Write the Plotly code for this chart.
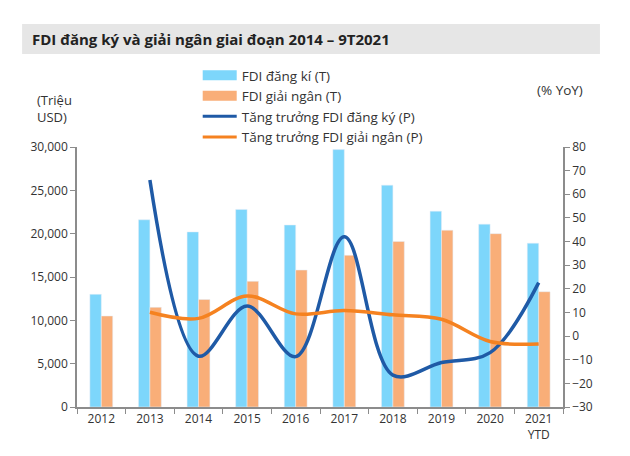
import plotly.graph_objects as go

years = ["2012", "2013", "2014", "2015", "2016", "2017", "2018", "2019", "2020", "2021"]
tick_labels = ["2012", "2013", "2014", "2015", "2016", "2017", "2018", "2019", "2020", "2021<br>YTD"]
fdi_dang_ky = [13000, 21600, 20200, 22800, 21000, 29700, 25600, 22600, 21100, 18900]
fdi_giai_ngan = [10500, 11500, 12400, 14500, 15800, 17500, 19100, 20400, 20000, 13300]
tt_dang_ky = [None, 66, -8.5, 12.7, -8.7, 42, -16.5, -11.2, -7, 22.6]
tt_giai_ngan = [None, 10.1, 7.5, 17, 9.4, 10.8, 9, 7.1, -2.3, -3.3]

C_BLUE_BAR = "#7DD6FB"
C_ORANGE_BAR = "#F9AE78"
C_BLUE_LINE = "#1F5AA6"
C_ORANGE_LINE = "#F58220"
FONT = "Open Sans"

fig = go.Figure()
fig.add_trace(go.Bar(x=years, y=fdi_dang_ky, marker_color=C_BLUE_BAR, showlegend=False,
                     name="FDI đăng kí (T)"))
fig.add_trace(go.Bar(x=years, y=fdi_giai_ngan, marker_color=C_ORANGE_BAR, showlegend=False,
                     name="FDI giải ngân (T)"))
fig.add_trace(go.Scatter(x=years, y=tt_dang_ky, yaxis="y2", mode="lines",
                         line=dict(color=C_BLUE_LINE, width=3.5, shape="spline", smoothing=1.0),
                         showlegend=False, name="Tăng trưởng FDI đăng ký (P)"))
fig.add_trace(go.Scatter(x=years, y=tt_giai_ngan, yaxis="y2", mode="lines",
                         line=dict(color=C_ORANGE_LINE, width=3.5, shape="spline", smoothing=1.0),
                         showlegend=False, name="Tăng trưởng FDI giải ngân (P)"))

# legend entries
for name, color, w in [("FDI đăng kí (T)", C_BLUE_BAR, 11), ("FDI giải ngân (T)", C_ORANGE_BAR, 11),
                       ("Tăng trưởng FDI đăng ký (P)", C_BLUE_LINE, 3),
                       ("Tăng trưởng FDI giải ngân (P)", C_ORANGE_LINE, 3)]:
    fig.add_trace(go.Scatter(x=[None], y=[None], mode="lines", name=name,
                             line=dict(color=color, width=w), showlegend=True))

fig.update_layout(
    width=622, height=448,
    margin=dict(l=69, r=67, t=139, b=49, autoexpand=False),
    paper_bgcolor="white", plot_bgcolor="white",
    font=dict(family=FONT, size=12, color="#333333"),
    barmode="group", bargap=0.53, bargroupgap=0,
    xaxis=dict(tickmode="array", tickvals=years, ticktext=tick_labels, automargin=False,
               showline=True, linecolor="#8c8c8c", linewidth=1.5, tickangle=0,
               ticks="outside", tickson="boundaries", ticklen=5, tickcolor="#8c8c8c",
               showgrid=False, tickfont=dict(size=12, color="#333333")),
    yaxis=dict(range=[0, 30000], dtick=5000, tickformat=",d", automargin=False,
               showline=True, linecolor="#8c8c8c", linewidth=1.5,
               ticks="outside", ticklen=5, tickcolor="#8c8c8c",
               showgrid=False, zeroline=False, tickfont=dict(size=12, color="#333333")),
    yaxis2=dict(range=[-30, 80], dtick=10, overlaying="y", side="right", automargin=False,
                showline=True, linecolor="#8c8c8c", linewidth=1.5,
                ticks="outside", ticklen=5, tickcolor="#8c8c8c",
                showgrid=False, zeroline=False, tickfont=dict(size=12, color="#333333")),
    legend=dict(x=0.305, y=0.884, xref="container", yref="container", xanchor="left", yanchor="top",
                font=dict(size=13.5, color="#333333"), tracegroupgap=0, itemwidth=34,
                bgcolor="rgba(0,0,0,0)"),
    showlegend=True,
)

fig.add_shape(type="rect", xref="paper", yref="paper", x0=-0.113, x1=1.076, y0=1.358, y1=1.473,
              fillcolor="#E6E6E6", line=dict(width=0), layer="below")
fig.add_annotation(text="<b>FDI đăng ký và giải ngân giai đoạn 2014 – 9T2021</b>",
                   xref="paper", yref="paper", x=-0.0967, y=1.415, xanchor="left", yanchor="middle",
                   showarrow=False, font=dict(size=15, color="#222222", family=FONT))
fig.add_annotation(text="(Triệu<br>USD)", xref="paper", yref="paper", x=-0.0864, y=1.15,
                   xanchor="left", yanchor="middle", align="left", showarrow=False,
                   font=dict(size=13, color="#333333"))
fig.add_annotation(text="(% YoY)", xref="paper", yref="paper", x=0.994, y=1.219,
                   xanchor="center", yanchor="middle", showarrow=False,
                   font=dict(size=13.5, color="#333333"))

fig.write_html("out.html")
